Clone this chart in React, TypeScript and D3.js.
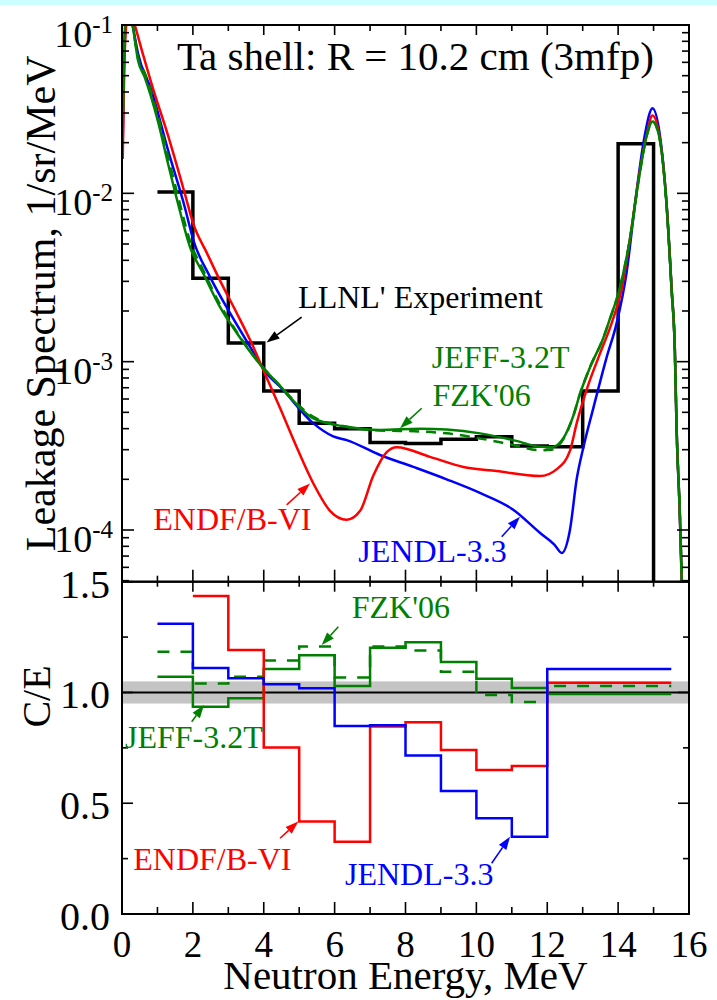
import React from 'react';
import * as d3 from 'd3';

// ---- data ----

// LLNL experiment, 1 MeV bins from 1 to 15 MeV (1/sr/MeV)
const exptEdges = d3.range(1, 16);
const exptValues = [1.02e-2, 3.13e-3, 1.29e-3, 6.7e-4, 4.3e-4, 4.0e-4, 3.31e-4, 3.27e-4, 3.46e-4, 3.58e-4, 3.16e-4, 3.12e-4, 6.7e-4, 1.97e-2];

// ENDF/B-VI calculation
const endfE = [0.02, 0.06, 0.12, 0.22, 0.36, 0.6, 0.83, 1.3, 1.77, 2.01, 2.4, 2.76, 3.24, 3.7, 4.03, 4.46, 4.93, 5.4, 5.87, 6.34, 6.72, 7.09, 7.47, 7.75, 8.69, 9.63, 10.57, 11.8, 12.27, 12.64, 12.83, 13.11, 13.49, 13.82, 14.1, 14.33, 14.61, 14.8, 14.97, 15.18, 15.37, 15.51, 15.6, 15.65, 15.74, 15.8];
const endfV = [1.6e-2, 5e-2, 1.0e-1, 1.25e-1, 1.0e-1, 6.6e-2, 4.5e-2, 2.2e-2, 1.0e-2, 6.6e-3, 4.4e-3, 3.05e-3, 1.94e-3, 1.23e-3, 8.5e-4, 5.3e-4, 3.1e-4, 1.89e-4, 1.3e-4, 1.15e-4, 1.3e-4, 2.1e-4, 2.9e-4, 3.1e-4, 2.72e-4, 2.37e-4, 2.24e-4, 2.09e-4, 2.3e-4, 2.95e-4, 4.3e-4, 6.8e-4, 1.12e-3, 1.7e-3, 2.7e-3, 5.3e-3, 1.35e-2, 2.2e-2, 2.9e-2, 2.1e-2, 8.5e-3, 2.7e-3, 1.2e-3, 4.0e-4, 1.25e-4, 4.5e-5];

// JENDL-3.3 calculation
const jendlE = [0.02, 0.06, 0.12, 0.2, 0.3, 0.45, 0.83, 1.3, 1.77, 2.01, 2.48, 3.05, 3.61, 4.08, 4.46, 5.4, 5.96, 6.34, 7.28, 8.22, 9.16, 10.1, 11.04, 11.8, 12.2, 12.41, 12.64, 12.83, 13.02, 13.3, 13.67, 13.96, 14.24, 14.5, 14.75, 14.97, 15.18, 15.37, 15.51, 15.6, 15.65, 15.74, 15.8];
const jendlV = [2.0e-2, 6.0e-2, 1.1e-1, 1.3e-1, 1.0e-1, 6.8e-2, 4.1e-2, 1.8e-2, 8.3e-3, 5.3e-3, 3.2e-3, 1.94e-3, 1.23e-3, 8.5e-4, 7.1e-4, 4.3e-4, 3.6e-4, 3.42e-4, 2.79e-4, 2.37e-4, 2.0e-4, 1.66e-4, 1.32e-4, 9.6e-5, 8.2e-5, 7.3e-5, 1.0e-4, 2.0e-4, 3.1e-4, 5.3e-4, 1.05e-3, 1.7e-3, 3.4e-3, 9.5e-3, 2.2e-2, 3.2e-2, 2.2e-2, 8.5e-3, 2.7e-3, 1.2e-3, 4.0e-4, 1.25e-4, 4.5e-5];

// JEFF-3.2T (solid) and FZK'06 (dashed) share the energy grid
const jeffE = [0.02, 0.06, 0.12, 0.2, 0.3, 0.45, 0.64, 1.01, 1.3, 1.58, 1.92, 2.29, 2.76, 3.24, 3.8, 4.4, 5.4, 6.34, 7.28, 8.41, 9.16, 10.1, 11.04, 11.8, 12.12, 12.45, 12.74, 12.93, 13.21, 13.58, 13.77, 14.05, 14.33, 14.61, 14.8, 14.97, 15.18, 15.37, 15.51, 15.6, 15.65, 15.74, 15.8];
const jeffV = [2.5e-2, 7.0e-2, 1.2e-1, 1.3e-1, 1.0e-1, 6.2e-2, 4.9e-2, 2.7e-2, 1.5e-2, 8.7e-3, 4.8e-3, 3.35e-3, 2.12e-3, 1.48e-3, 1.02e-3, 7.4e-4, 4.6e-4, 4.1e-4, 3.93e-4, 4.0e-4, 3.95e-4, 3.75e-4, 3.42e-4, 3.12e-4, 3.1e-4, 3.5e-4, 4.8e-4, 6.5e-4, 9.3e-4, 1.38e-3, 1.8e-3, 2.75e-3, 5.3e-3, 1.32e-2, 2.17e-2, 2.67e-2, 2.07e-2, 8.3e-3, 2.66e-3, 1.17e-3, 4.0e-4, 1.3e-4, 4.8e-5];
const fzkV = [2.5e-2, 7.0e-2, 1.2e-1, 1.3e-1, 1.0e-1, 6.4e-2, 5.2e-2, 2.9e-2, 1.65e-2, 9.6e-3, 5.2e-3, 3.5e-3, 2.2e-3, 1.5e-3, 1.03e-3, 7.4e-4, 4.7e-4, 4.1e-4, 3.9e-4, 3.85e-4, 3.75e-4, 3.5e-4, 3.2e-4, 2.98e-4, 3.0e-4, 3.45e-4, 4.8e-4, 6.5e-4, 9.3e-4, 1.38e-3, 1.8e-3, 2.75e-3, 5.3e-3, 1.32e-2, 2.17e-2, 2.67e-2, 2.07e-2, 8.3e-3, 2.66e-3, 1.17e-3, 4.0e-4, 1.3e-4, 4.8e-5];

// C/E ratios, bins 1-2 ... 11-12 and 12-15.5 MeV
const ceEdges = [1, 2, 3, 4, 5, 6, 7, 8, 9, 10, 11, 12, 15.5];
const ceJendl = [1.31, 1.11, 1.064, 1.037, 1.019, 0.849, 0.852, 0.716, 0.555, 0.432, 0.349, 1.106];
const ceEndf = [null, 1.436, 1.192, 0.752, 0.418, 0.326, 0.846, 0.865, 0.74, 0.65, 0.668, 1.044];
const ceJeff = [1.071, 0.936, 0.974, 1.106, 1.168, 1.029, 1.202, 1.227, 1.138, 1.062, 1.02, 0.993];
const ceFzk = [1.184, 1.041, 1.071, 1.144, 1.207, 1.068, 1.207, 1.189, 1.094, 0.989, 0.957, 1.029];
const expBand = [0.95, 1.05];

const xTickLabels = d3.range(0, 17, 2);
const topTickLabels = [-1, -2, -3, -4];
const botTickLabels = ['0.0', '0.5', '1.0', '1.5'];

// ---- layout ----
const W = 717;
const H = 1000;
const left = 122;
const right = 689;
const top = 25;
const split = 581.7;
const bottom = 914;
const FONT = "'Liberation Serif', 'DejaVu Serif', 'Times New Roman', serif";
const RED = '#ff0000';
const BLUE = '#0000ff';
const GREEN = '#008000';

const x = d3.scaleLinear().domain([0, 16]).range([left, right]);
const yTop = d3.scaleLog().domain([4.93e-5, 0.1]).range([split, top]);
const yBot = d3.scaleLinear().domain([0, 1.5]).range([bottom, split]);

// annotations in data coordinates
const topNotes = [
  { t: "LLNL' Experiment", e: 4.97, v: 2.07e-3, c: '#000' },
  { t: 'JEFF-3.2T', e: 8.74, v: 9.14e-4, c: GREEN },
  { t: "FZK'06", e: 8.76, v: 5.46e-4, c: GREEN },
  { t: 'ENDF/B-VI', e: 0.883, v: 1.0e-4, c: RED },
  { t: 'JENDL-3.3', e: 6.668, v: 6.49e-5, c: BLUE },
];
const topArrows = [
  { e1: 5.07, v1: 1.84e-3, e2: 4.08, v2: 1.3e-3, c: '#000' },
  { e1: 8.457, v1: 5.29e-4, e2: 7.845, v2: 4.02e-4, c: GREEN },
  { e1: 4.648, v1: 1.41e-4, e2: 5.305, v2: 1.89e-4, c: RED },
  { e1: 10.715, v1: 9.12e-5, e2: 11.231, v2: 1.2e-4, c: BLUE },
];
const botNotes = [
  { t: "FZK'06", e: 6.482, v: 1.335, c: GREEN },
  { t: 'JEFF-3.2T', e: 0.085, v: 0.749, c: GREEN },
  { t: 'ENDF/B-VI', e: 0.319, v: 0.199, c: RED },
  { t: 'JENDL-3.3', e: 6.293, v: 0.131, c: BLUE },
];
const botArrows = [
  { e1: 6.104, v1: 1.297, e2: 5.635, v2: 1.214, c: GREEN },
  { e1: 1.967, v1: 0.868, e2: 2.314, v2: 0.943, c: GREEN },
  { e1: 4.459, v1: 0.342, e2: 4.975, v2: 0.417, c: RED },
  { e1: 10.432, v1: 0.229, e2: 10.949, v2: 0.349, c: BLUE },
];

function Arrow({ x1, y1, x2, y2, color }: any) {
  const a = Math.atan2(y2 - y1, x2 - x1);
  const len = 13, hw = 4.5;
  const bx = x2 - len * Math.cos(a), by = y2 - len * Math.sin(a);
  const px = -Math.sin(a) * hw, py = Math.cos(a) * hw;
  return (
    <g>
      <line x1={x1} y1={y1} x2={bx} y2={by} stroke={color} strokeWidth={1.6} />
      <polygon points={`${x2},${y2} ${bx + px},${by + py} ${bx - px},${by - py}`} fill={color} />
    </g>
  );
}

export default function App() {
  const smooth = d3.line<[number, number]>()
    .x(d => x(d[0]))
    .y(d => yTop(d[1]))
    .curve(d3.curveMonotoneX);

  const exptPts: [number, number][] = exptEdges.map((e, i) => [e, exptValues[Math.min(i, exptValues.length - 1)]]);
  exptPts.push([15, yTop.domain()[0]]);
  const exptPath = d3.line<[number, number]>()
    .x(d => x(d[0])).y(d => yTop(d[1]))
    .curve(d3.curveStepAfter)(exptPts);

  const step = d3.line<[number, number | null]>()
    .defined(d => d[1] != null)
    .x(d => x(d[0]))
    .y(d => yBot(d[1] as number))
    .curve(d3.curveStepAfter);
  const stepPts = (vals: (number | null)[]) =>
    ceEdges.map((e, i) => [e, vals[Math.min(i, vals.length - 1)]] as [number, number | null]);

  // log ticks
  const logTicks: { v: number; major: boolean }[] = [];
  for (let d = -5; d <= -1; d++) {
    for (let k = 1; k <= 9; k++) {
      const v = k * Math.pow(10, d);
      if (v >= yTop.domain()[0] * 0.999 && v <= 0.1001) logTicks.push({ v, major: k === 1 });
    }
  }
  const xTicks = d3.range(0, 17);
  const botTicks = d3.range(0, 1.5001, 0.25);

  const tick = (x1: number, y1: number, x2: number, y2: number, key: string) => (
    <line key={key} x1={x1} y1={y1} x2={x2} y2={y2} stroke="#000" strokeWidth={1.6} />
  );
  const ts = { fontFamily: FONT };

  return (
    <svg width={W} height={H} style={{ position: 'absolute', left: 0, top: 0, display: 'block', background: '#fff', fontFamily: FONT }}>
      <defs>
        <clipPath id="clipTop"><rect x={left} y={top} width={right - left} height={split - top} /></clipPath>
        <clipPath id="clipBot"><rect x={left} y={split} width={right - left} height={bottom - split} /></clipPath>
      </defs>
      <rect x={0} y={0} width={W} height={5} fill="#ccffff" />

      {/* ---------- top panel ---------- */}
      <g clipPath="url(#clipTop)">
        <path d={exptPath || ''} fill="none" stroke="#000" strokeWidth={3.5} />
        <path d={smooth(d3.zip(jendlE, jendlV) as [number, number][]) || ''} fill="none" stroke={BLUE} strokeWidth={2.5} />
        <path d={smooth(d3.zip(endfE, endfV) as [number, number][]) || ''} fill="none" stroke={RED} strokeWidth={2.5} />
        <path d={smooth(d3.zip(jeffE, fzkV) as [number, number][]) || ''} fill="none" stroke={GREEN} strokeWidth={2.5} strokeDasharray="10,7" />
        <path d={smooth(d3.zip(jeffE, jeffV) as [number, number][]) || ''} fill="none" stroke={GREEN} strokeWidth={2.5} />
      </g>
      {xTicks.map(t => {
        const len = t % 2 === 0 ? 10 : 6;
        return (
          <g key={'tx' + t}>
            {tick(x(t), top, x(t), top + len, 'a')}
            {tick(x(t), split, x(t), split - (t % 2 === 0 ? 12 : 6), 'b')}
          </g>
        );
      })}
      {logTicks.map((t, i) => {
        const len = t.major ? 12 : 7;
        const yy = yTop(t.v);
        return (
          <g key={'ly' + i}>
            {tick(left, yy, left + len, yy, 'a')}
            {tick(right, yy, right - len, yy, 'b')}
          </g>
        );
      })}
      <rect x={left} y={top} width={right - left} height={split - top} fill="none" stroke="#000" strokeWidth={2} />
      {topTickLabels.map(p => (
        <text key={'tl' + p} x={113} y={yTop(Math.pow(10, p)) + 22} textAnchor="end" fontSize={38} style={ts}>
          10<tspan dy={-14} fontSize={25}>{'-' + Math.abs(p)}</tspan>
        </text>
      ))}
      <text x={x(1.55)} y={yTop(0.054)} fontSize={41} style={ts}>Ta shell: R = 10.2 cm (3mfp)</text>
      {topNotes.map(n => (
        <text key={n.t + 'top'} x={x(n.e)} y={yTop(n.v)} fontSize={32} fill={n.c} style={ts}>{n.t}</text>
      ))}
      {topArrows.map((a, i) => (
        <Arrow key={'ta' + i} x1={x(a.e1)} y1={yTop(a.v1)} x2={x(a.e2)} y2={yTop(a.v2)} color={a.c} />
      ))}

      {/* ---------- bottom panel ---------- */}
      <rect x={left} y={yBot(expBand[1])} width={right - left} height={yBot(expBand[0]) - yBot(expBand[1])} fill="#c4c4c4" />
      <line x1={left} x2={right} y1={yBot(1)} y2={yBot(1)} stroke="#000" strokeWidth={2} />
      <g clipPath="url(#clipBot)">
        <path d={step(stepPts(ceFzk)) || ''} fill="none" stroke={GREEN} strokeWidth={2.5} strokeDasharray="12,11" />
        <path d={step(stepPts(ceJeff)) || ''} fill="none" stroke={GREEN} strokeWidth={2.5} />
        <path d={step(stepPts(ceEndf)) || ''} fill="none" stroke={RED} strokeWidth={2.5} />
        <path d={step(stepPts(ceJendl)) || ''} fill="none" stroke={BLUE} strokeWidth={2.5} />
      </g>
      {xTicks.map(t => {
        const major = t % 2 === 0;
        return (
          <g key={'bx' + t}>
            {tick(x(t), split, x(t), split + (major ? 10 : 5), 'a')}
            {tick(x(t), bottom, x(t), bottom - (major ? 12 : 7), 'b')}
          </g>
        );
      })}
      {botTicks.map(t => {
        const len = Math.abs(t * 2 - Math.round(t * 2)) < 1e-6 ? 11 : 6;
        return (
          <g key={'by' + t}>
            {tick(left, yBot(t), left + len, yBot(t), 'a')}
            {tick(right, yBot(t), right - len, yBot(t), 'b')}
          </g>
        );
      })}
      <rect x={left} y={split} width={right - left} height={bottom - split} fill="none" stroke="#000" strokeWidth={2} />
      {botTickLabels.map(l => (
        <text key={'bl' + l} x={110} y={yBot(+l) + 16} textAnchor="end" fontSize={40} style={ts}>{l}</text>
      ))}
      {botNotes.map(n => (
        <text key={n.t + 'bot'} x={x(n.e)} y={yBot(n.v)} fontSize={32} fill={n.c} style={ts}>{n.t}</text>
      ))}
      {botArrows.map((a, i) => (
        <Arrow key={'ba' + i} x1={x(a.e1)} y1={yBot(a.v1)} x2={x(a.e2)} y2={yBot(a.v2)} color={a.c} />
      ))}

      {/* ---------- shared x axis and titles ---------- */}
      {xTickLabels.map(t => (
        <text key={'xl' + t} x={x(t)} y={957} textAnchor="middle" fontSize={37} style={ts}>{t}</text>
      ))}
      <text x={(left + right) / 2} y={989} textAnchor="middle" fontSize={41} style={ts}>Neutron Energy, MeV</text>
      <text transform={`translate(55,${(top + split) / 2}) rotate(-90)`} textAnchor="middle" fontSize={42} style={ts}>
        Leakage Spectrum, 1/sr/MeV
      </text>
      <text transform={`translate(50,${yBot(1) + 4}) rotate(-90)`} textAnchor="middle" fontSize={40} style={ts}>C/E</text>
    </svg>
  );
}
